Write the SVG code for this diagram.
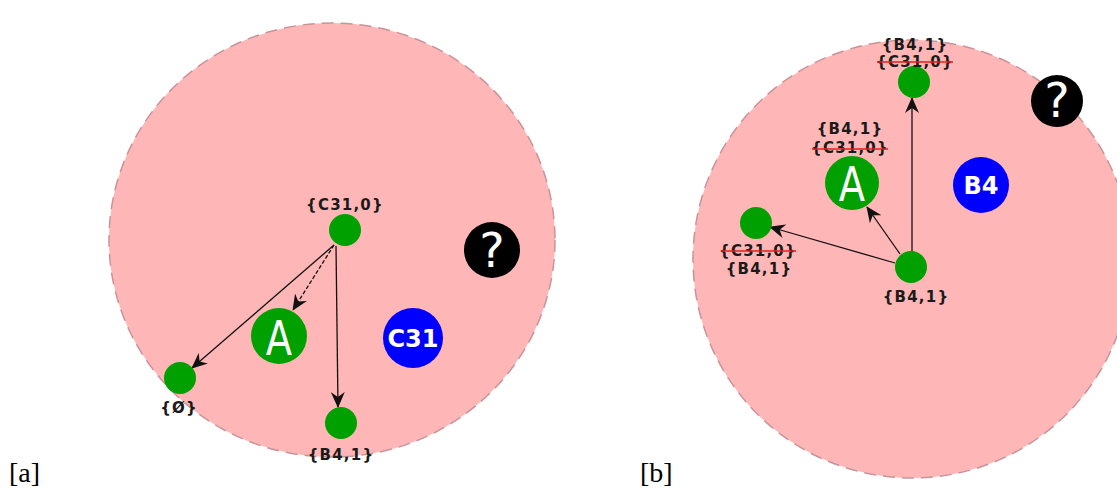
<svg xmlns="http://www.w3.org/2000/svg" width="1117" height="495" viewBox="0 0 1117 495">
<defs>
<style>
.zone{fill:#ffb6b6;stroke:#c7949a;stroke-width:1.5;stroke-dasharray:12 7}
.g{fill:#00a000}
.lbl{font-family:"DejaVu Sans",sans-serif;font-weight:bold;font-size:15px;letter-spacing:1.2px;fill:#1a1a1a;text-anchor:middle}
.big{font-family:"DejaVu Sans",sans-serif;font-size:48px;fill:#fff;text-anchor:middle}
.ag{font-family:"DejaVu Sans",sans-serif;font-weight:bold;fill:#fff;text-anchor:middle}
.cap{font-family:"Liberation Serif",serif;font-size:28px;fill:#000}
.edge{stroke:#111;stroke-width:1.3;fill:none;marker-end:url(#ah)}
.strike{stroke:#e02020;stroke-width:1.5}
</style>
<marker id="ah" markerUnits="userSpaceOnUse" markerWidth="18" markerHeight="14" refX="15" refY="7" orient="auto">
<path d="M0,0 L16,7 L0,14 L5,7 Z" fill="#111"/>
</marker>
</defs>
<g id="panel-a">
<ellipse class="zone" cx="332" cy="240" rx="223" ry="217"/>
</g>
<g id="panel-b">
<circle class="zone" cx="912" cy="259" r="219"/>
</g>
<g id="connectors">
<line class="edge" x1="334" y1="245" x2="192" y2="368"/>
<line class="edge" x1="334" y1="245" x2="293" y2="310" stroke-dasharray="4 2"/>
<line class="edge" x1="336" y1="246" x2="338" y2="407"/>
<line class="edge" x1="912" y1="252" x2="912" y2="98"/>
<line class="edge" x1="900" y1="254" x2="867" y2="207"/>
<line class="edge" x1="895" y1="263" x2="770" y2="227"/>
</g>
<g id="a-c31-0">
<circle class="g" cx="345" cy="230" r="16"/>
<text class="lbl" x="345" y="210">{C31,0}</text>
</g>
<g id="a-A">
<circle class="g" cx="279" cy="336" r="28"/>
<text class="big" transform="translate(279,355) scale(0.8,1)" font-size="52">A</text>
</g>
<g id="a-empty">
<circle class="g" cx="180" cy="378" r="16"/>
<text class="lbl" x="179" y="413">{Ø}</text>
</g>
<g id="a-b4-1">
<circle class="g" cx="341" cy="423" r="16"/>
<text class="lbl" x="341" y="460">{B4,1}</text>
</g>
<g id="a-question">
<circle cx="492" cy="250" r="28" fill="#000"/>
<text class="big" x="492" y="267" font-size="44">?</text>
</g>
<g id="a-C31">
<circle cx="413" cy="338" r="30" fill="#0000ff"/>
<text class="ag" x="413" y="347" font-size="24">C31</text>
</g>
<g id="b-top">
<circle class="g" cx="914" cy="82" r="16"/>
<text class="lbl" x="915" y="50">{B4,1}</text>
<text class="lbl" x="915" y="67">{C31,0}</text>
<line class="strike" x1="877" y1="62" x2="953" y2="62"/>
</g>
<g id="b-A">
<circle class="g" cx="852" cy="183" r="27"/>
<text class="big" transform="translate(852,201) scale(0.8,1)" font-size="50">A</text>
<text class="lbl" x="850" y="134">{B4,1}</text>
<text class="lbl" x="850" y="153">{C31,0}</text>
<line class="strike" x1="812" y1="149" x2="888" y2="149"/>
</g>
<g id="b-left">
<circle class="g" cx="756" cy="223" r="16"/>
<text class="lbl" x="758" y="256">{C31,0}</text>
<line class="strike" x1="721" y1="251" x2="796" y2="251"/>
<text class="lbl" x="759" y="274">{B4,1}</text>
</g>
<g id="b-bottom">
<circle class="g" cx="911" cy="267" r="16"/>
<text class="lbl" x="916" y="302">{B4,1}</text>
</g>
<g id="b-B4">
<circle cx="981" cy="185" r="28" fill="#0000ff"/>
<text class="ag" x="981" y="194" font-size="24">B4</text>
</g>
<g id="b-question">
<circle cx="1057" cy="101" r="26" fill="#000"/>
<text class="big" x="1057" y="117" font-size="42">?</text>
</g>
<text class="cap" x="9" y="482">[a]</text>
<text class="cap" x="640" y="482">[b]</text>
</svg>
